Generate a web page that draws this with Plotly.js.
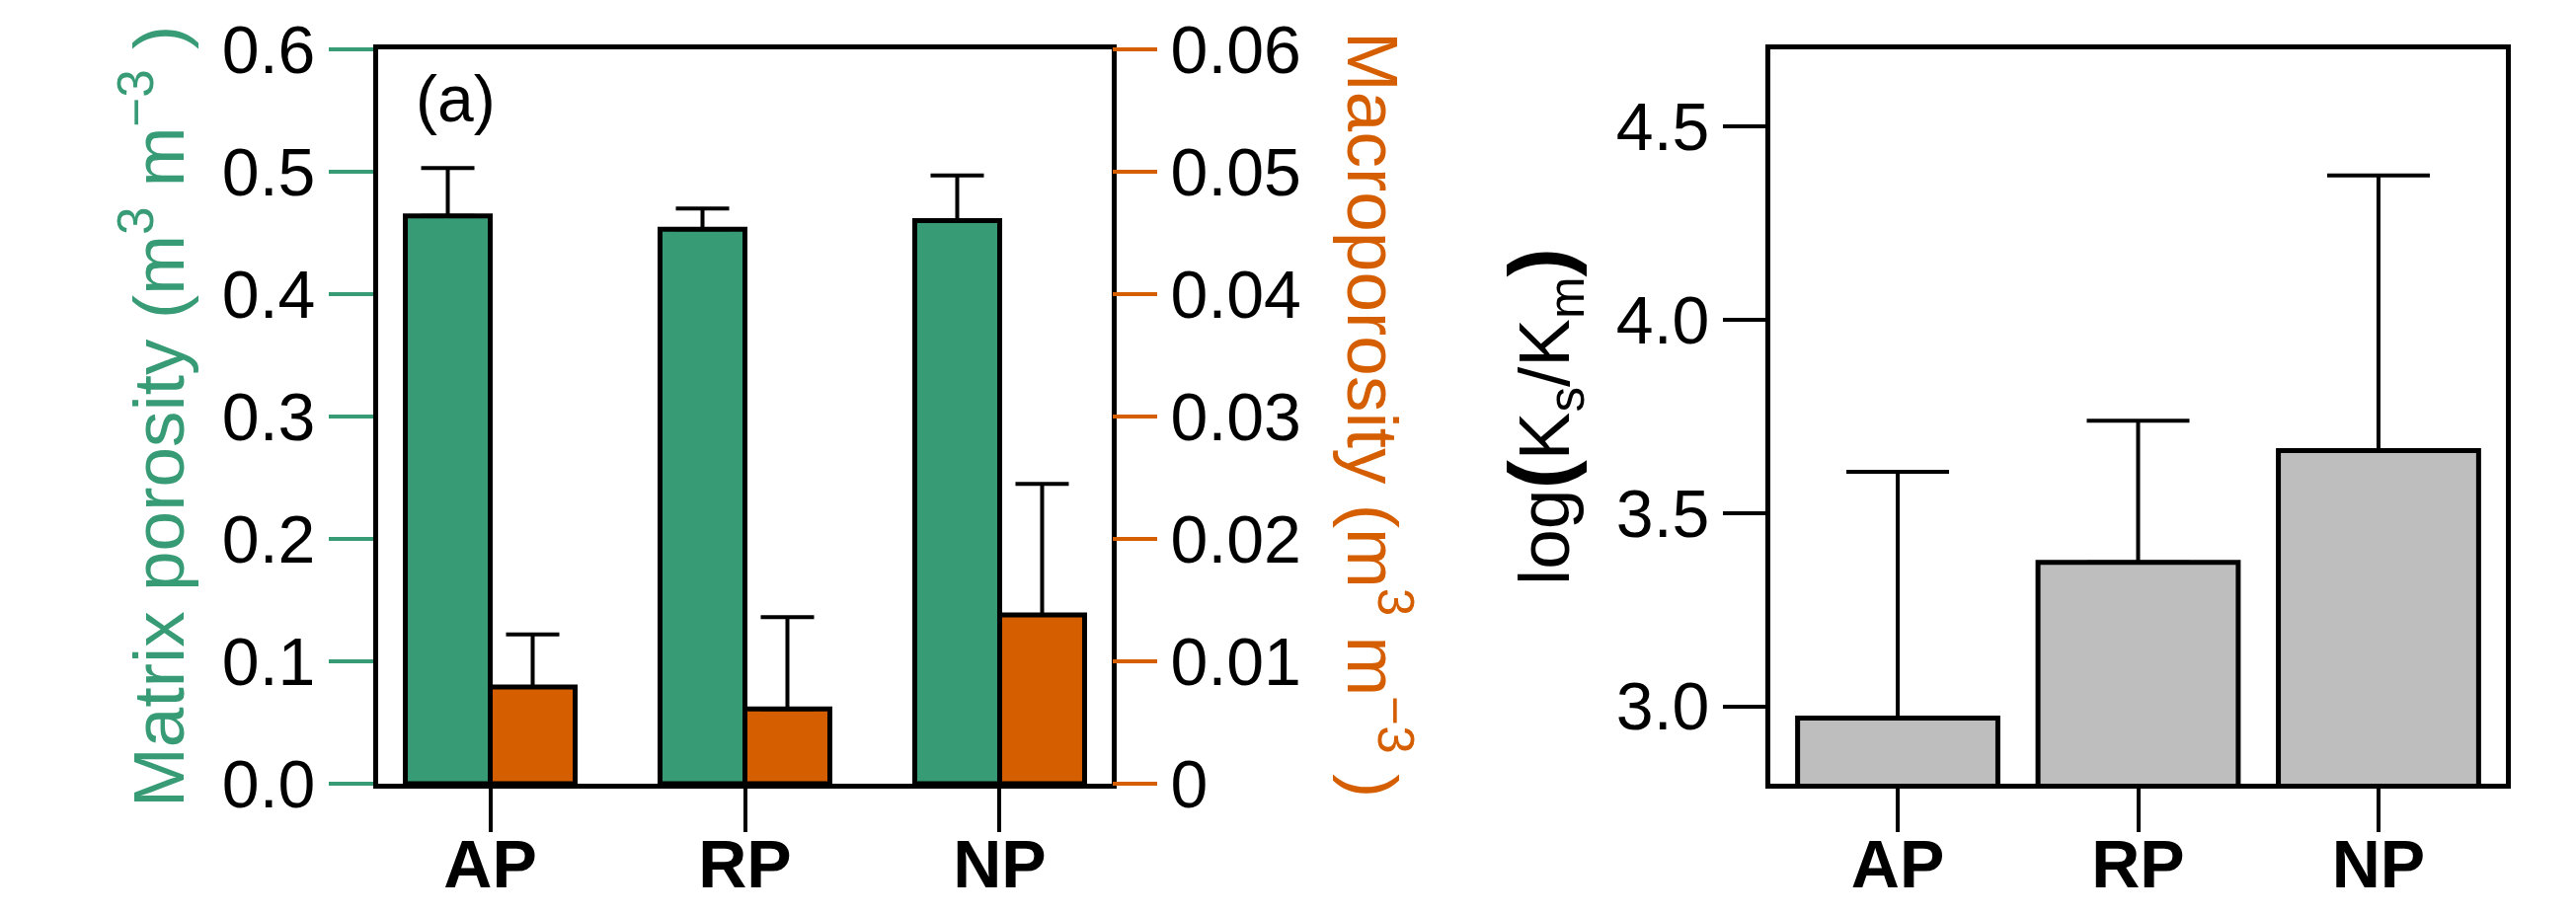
<!DOCTYPE html>
<html><head><meta charset="utf-8">
<script src="https://cdn.plot.ly/plotly-3.0.1.min.js"></script>
<style>html,body{margin:0;padding:0;background:#fff;} #chart{width:2609px;height:926px;}</style>
</head><body><div id="chart"></div>
<script>
// ---- data ----
const categories = ['AP', 'RP', 'NP'];
const matrixPorosity = [0.464, 0.453, 0.460];
const matrixPorositySD = [0.039, 0.017, 0.037];
const macroporosity = [0.0079, 0.0061, 0.0138];
const macroporositySD = [0.0043, 0.0075, 0.0107];
const logKsKm = [2.970, 3.373, 3.662];
const logKsKmSD = [0.637, 0.366, 0.712];
const noLowerError = [0, 0, 0];
const matrixTickVals = [0, 0.1, 0.2, 0.3, 0.4, 0.5, 0.6];
const matrixTickText = ['0.0', '0.1', '0.2', '0.3', '0.4', '0.5', '0.6'];
const macroTickVals = [0, 0.01, 0.02, 0.03, 0.04, 0.05, 0.06];
const macroTickText = ['0', '0.01', '0.02', '0.03', '0.04', '0.05', '0.06'];
const logTickVals = [3.0, 3.5, 4.0, 4.5];
const logTickText = ['3.0', '3.5', '4.0', '4.5'];

// ---- style ----
const W = 2609, H = 926;
const GREEN = '#379B75', ORANGE = '#D55E00', GREY = '#BEBEBE';
const FONT = 'Liberation Sans, Arial, Helvetica, sans-serif';
const px = v => v / W, py = v => 1 - v / H;

const traces = [
  {type: 'bar', x: categories, y: matrixPorosity, xaxis: 'x', yaxis: 'y',
   offset: -1/3, width: 1/3,
   marker: {color: GREEN, line: {color: '#000', width: 5}},
   error_y: {type: 'data', symmetric: false, array: matrixPorositySD, arrayminus: noLowerError,
             color: '#000', thickness: 4, width: 27}},
  {type: 'bar', x: categories, y: macroporosity, xaxis: 'x', yaxis: 'y2',
   offset: 0, width: 1/3,
   marker: {color: ORANGE, line: {color: '#000', width: 5}},
   error_y: {type: 'data', symmetric: false, array: macroporositySD, arrayminus: noLowerError,
             color: '#000', thickness: 4, width: 27}},
  {type: 'bar', x: categories, y: logKsKm, xaxis: 'x2', yaxis: 'y3',
   width: 0.833,
   marker: {color: GREY, line: {color: '#000', width: 5}},
   error_y: {type: 'data', symmetric: false, array: logKsKmSD, arrayminus: noLowerError,
             color: '#000', thickness: 4, width: 52}}
];

const xCommon = {type: 'category', showline: true, mirror: true, linecolor: '#000', linewidth: 5,
  ticks: 'outside', ticklen: 44, tickwidth: 4, tickcolor: '#000', ticklabelstandoff: -26,
  tickfont: {family: FONT, size: 68, color: '#000', weight: 'bold'},
  showgrid: false, zeroline: false, fixedrange: true};
const yDomain = [py(794), py(50)];

const layout = {
  width: W, height: H,
  margin: {l: 0, r: 0, t: 0, b: 0},
  paper_bgcolor: '#fff', plot_bgcolor: '#fff',
  showlegend: false, barmode: 'overlay',
  font: {family: FONT, color: '#000'},
  xaxis: Object.assign({}, xCommon, {domain: [px(383), px(1126)], range: [-0.44, 2.44], anchor: 'y'}),
  yaxis: {domain: yDomain, range: [0, 0.6], anchor: 'x',
    showline: true, mirror: true, linecolor: '#000', linewidth: 5,
    ticks: 'outside', ticklen: 45, tickwidth: 4, tickcolor: GREEN,
    tickvals: matrixTickVals, ticktext: matrixTickText,
    tickfont: {family: FONT, size: 68, color: '#000'},
    showgrid: false, zeroline: false, fixedrange: true},
  yaxis2: {overlaying: 'y', side: 'right', anchor: 'x', range: [0, 0.06],
    showline: false, ticks: 'outside', ticklen: 45, tickwidth: 4, tickcolor: ORANGE,
    tickvals: macroTickVals, ticktext: macroTickText,
    tickfont: {family: FONT, size: 68, color: '#000'},
    showgrid: false, zeroline: false, fixedrange: true},
  xaxis2: Object.assign({}, xCommon, {domain: [px(1793), px(2538)], range: [-0.53, 2.53], anchor: 'y3'}),
  yaxis3: {domain: yDomain, range: [2.8, 4.7], anchor: 'x2',
    showline: true, mirror: true, linecolor: '#000', linewidth: 5,
    ticks: 'outside', ticklen: 43, tickwidth: 4, tickcolor: '#000',
    tickvals: logTickVals, ticktext: logTickText,
    tickfont: {family: FONT, size: 68, color: '#000'},
    showgrid: false, zeroline: false, fixedrange: true},
  annotations: [
    {text: '(a)', xref: 'paper', yref: 'paper', x: px(419), y: py(100),
     xanchor: 'left', yanchor: 'middle', showarrow: false,
     font: {family: FONT, size: 66, color: '#000'}},
    {text: 'Matrix porosity (m<sup>3</sup> m<sup>\u22123</sup> )', textangle: -90,
     xref: 'paper', yref: 'paper', x: px(155), y: py(422),
     xanchor: 'center', yanchor: 'middle', showarrow: false,
     font: {family: FONT, size: 73, color: GREEN}},
    {text: 'Macroporosity (m<sup>3</sup> m<sup>\u22123</sup> )', textangle: 90,
     xref: 'paper', yref: 'paper', x: px(1396), y: py(420),
     xanchor: 'center', yanchor: 'middle', showarrow: false,
     font: {family: FONT, size: 73, color: ORANGE}},
    {text: 'log<b><span style="font-size:88px">(</span></b>K<sub>s</sub>/K<sub>m</sub><b><span style="font-size:88px">)</span></b>',
     textangle: -90, xref: 'paper', yref: 'paper', x: px(1562), y: py(422),
     xanchor: 'center', yanchor: 'middle', showarrow: false,
     font: {family: FONT, size: 73, color: '#000'}}
  ]
};

Plotly.newPlot('chart', traces, layout, {displayModeBar: false, staticPlot: true});
</script>
</body></html>
